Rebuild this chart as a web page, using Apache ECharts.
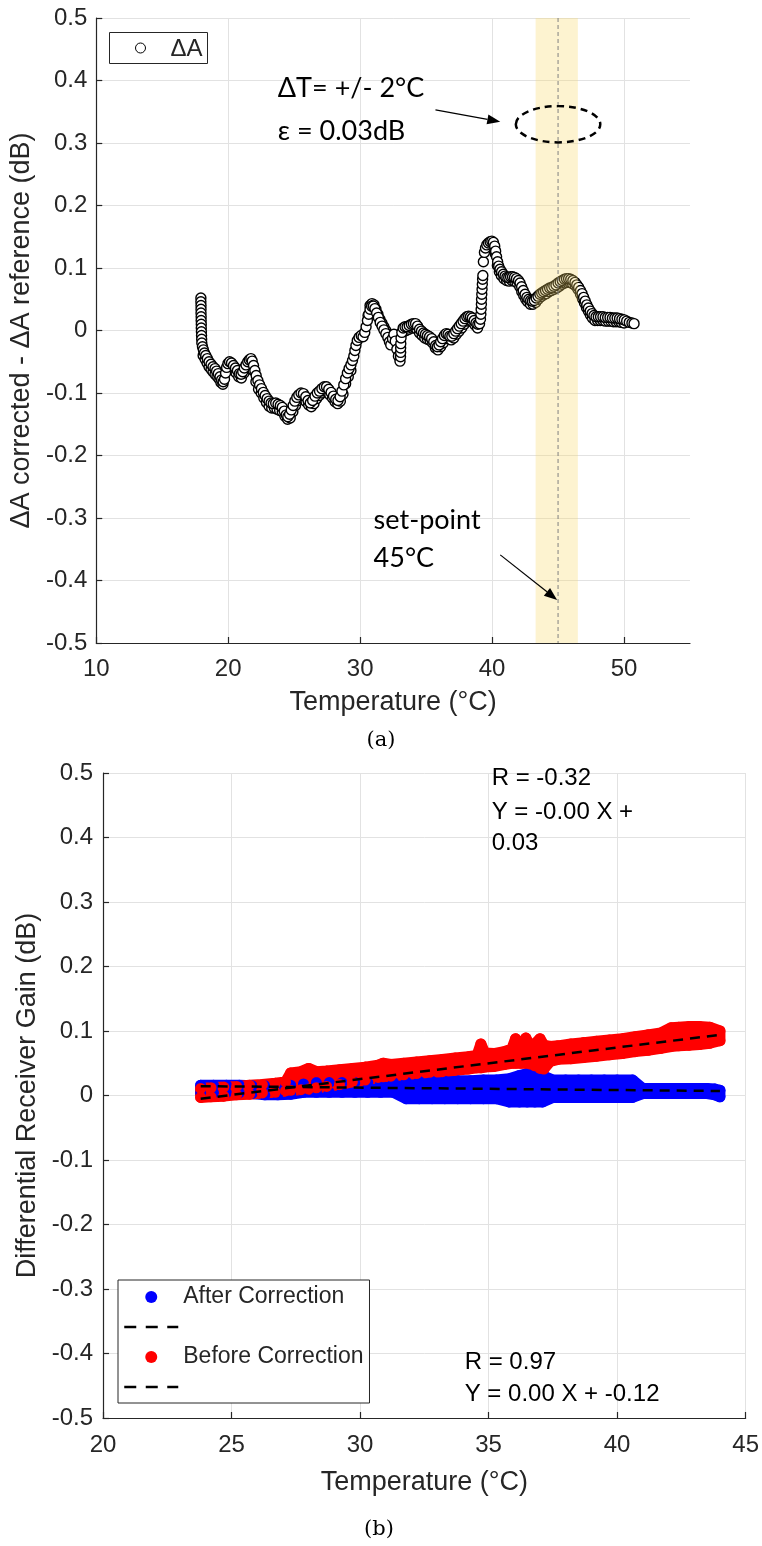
<!DOCTYPE html>
<html>
<head>
<meta charset="utf-8">
<script src="https://cdn.jsdelivr.net/npm/echarts@6/dist/echarts.min.js"></script>
<style>
  html, body { margin: 0; padding: 0; background: #ffffff; }
  #chart { width: 762px; height: 1546px; }
</style>
</head>
<body>
<div id="chart"></div>
<script>
// ---------- Panel (a): ΔA corrected − ΔA reference vs temperature ----------
const xTicksA = [10, 20, 30, 40, 50];
const xMaxA = 55;
const yTicks = [-0.5, -0.4, -0.3, -0.2, -0.1, 0, 0.1, 0.2, 0.3, 0.4, 0.5];

// [temperature °C, ΔA difference dB] — main sweep
const deltaAReadings = [
  [17.93,0.052],[17.93,0.046],[17.94,0.040],[17.94,0.034],[17.94,0.028],[17.95,0.022],[17.95,0.016],
  [17.96,0.010],[17.96,0.004],[17.97,-0.002],[17.98,-0.008],[17.99,-0.014],[18.0,-0.020],[18.05,-0.026],
  [18.12,-0.031],[18.2,-0.036],[18.3,-0.040],[18.42,-0.045],[18.55,-0.050],[18.7,-0.054],[18.85,-0.058],
  [19.0,-0.061],[19.12,-0.065],[19.25,-0.069],[19.38,-0.074],[19.5,-0.079],[19.62,-0.082],[19.72,-0.078],
  [19.8,-0.068],[19.88,-0.059],[19.98,-0.053],[20.1,-0.050],[20.25,-0.052],[20.4,-0.056],[20.55,-0.060],
  [20.7,-0.064],[20.85,-0.069],[20.98,-0.070],[21.1,-0.066],[21.22,-0.060],[21.35,-0.055],[21.48,-0.050],
  [21.6,-0.047],[21.72,-0.045],[21.82,-0.049],[21.92,-0.056],[22.02,-0.064],[22.12,-0.072],[22.25,-0.080],
  [22.38,-0.087],[22.52,-0.093],[22.66,-0.099],[22.8,-0.104],[22.95,-0.109],[23.1,-0.113],[23.25,-0.116],
  [23.42,-0.117],[23.6,-0.116],[23.78,-0.118],[23.95,-0.120],[24.1,-0.123],[24.25,-0.129],[24.4,-0.135],
  [24.52,-0.138],[24.65,-0.134],[24.78,-0.127],[24.92,-0.120],[25.05,-0.113],[25.2,-0.107],[25.35,-0.103],
  [25.52,-0.100],[25.7,-0.101],[25.88,-0.106],[26.05,-0.112],[26.22,-0.116],[26.4,-0.112],[26.58,-0.105],
  [26.75,-0.100],[26.92,-0.097],[27.1,-0.093],[27.28,-0.090],[27.45,-0.090],[27.62,-0.094],[27.8,-0.099],
  [27.98,-0.105],[28.15,-0.110],[28.32,-0.112],[28.48,-0.106],[28.62,-0.097],[28.76,-0.087],[28.9,-0.077],
  [29.03,-0.068],[29.16,-0.061],[29.3,-0.055],[29.42,-0.048],[29.52,-0.041],[29.6,-0.032],[29.68,-0.024],
  [29.78,-0.016],[29.92,-0.011],[30.08,-0.008],[30.22,-0.010],[30.35,-0.003],[30.45,0.006],[30.55,0.016],
  [30.65,0.026],[30.75,0.034],[30.87,0.039],[31.0,0.039],[31.12,0.035],[31.25,0.028],[31.38,0.021],
  [31.52,0.013],[31.66,0.007],[31.8,0.001],[31.95,-0.005],[32.1,-0.011],[32.22,-0.018],[32.32,-0.023],
  [32.45,-0.013],[32.56,-0.006],[32.66,-0.017],[32.78,-0.030],[32.9,-0.041],[33.02,-0.049],[33.06,-0.042],
  [33.07,-0.035],[33.07,-0.028],[33.08,-0.021],[33.1,-0.012],[33.16,-0.003],[33.26,0.004],[33.4,0.006],
  [33.56,0.006],[33.72,0.008],[33.88,0.010],[34.04,0.011],[34.2,0.011],[34.35,0.007],[34.5,0.002],
  [34.65,-0.001],[34.8,-0.004],[34.95,-0.006],[35.1,-0.008],[35.26,-0.010],[35.42,-0.013],[35.58,-0.018],
  [35.72,-0.024],[35.85,-0.026],[35.98,-0.023],[36.1,-0.018],[36.24,-0.013],[36.38,-0.008],[36.52,-0.005],
  [36.66,-0.006],[36.8,-0.009],[36.95,-0.009],[37.1,-0.005],[37.24,-0.001],[37.38,0.003],[37.52,0.007],
  [37.66,0.011],[37.8,0.015],[37.94,0.019],[38.08,0.022],[38.22,0.023],[38.36,0.022],[38.5,0.020],
  [38.64,0.016],[38.78,0.012],[38.92,0.010],[39.05,0.011],[39.12,0.018],[39.15,0.026],[39.17,0.034],
  [39.19,0.042],[39.2,0.050],[39.22,0.058],[39.24,0.066],[39.26,0.074],[39.28,0.082],[39.3,0.088],
  [39.34,0.110],[39.42,0.125],[39.5,0.132],[39.6,0.137],[39.72,0.140],[39.85,0.142],[39.98,0.143],
  [40.1,0.141],[40.2,0.135],[40.27,0.127],[40.34,0.118],[40.42,0.110],[40.5,0.103],[40.6,0.098],
  [40.72,0.094],[40.85,0.090],[40.98,0.087],[41.12,0.085],[41.26,0.085],[41.4,0.086],[41.55,0.086],
  [41.7,0.085],[41.85,0.083],[42.0,0.080],[42.12,0.076],[42.24,0.070],[42.36,0.064],[42.5,0.058],
  [42.64,0.053],[42.78,0.050],[42.92,0.048],[43.06,0.047],[43.2,0.048],[43.34,0.052],[43.48,0.055],
  [43.62,0.058],[43.76,0.060],[43.9,0.062],[44.05,0.064],[44.2,0.066],[44.36,0.068],[44.52,0.069],
  [44.68,0.071],[44.84,0.073],[45.0,0.076],[45.16,0.078],[45.32,0.080],[45.48,0.082],[45.64,0.083],
  [45.8,0.083],[45.96,0.082],[46.12,0.080],[46.28,0.077],[46.42,0.073],[46.56,0.069],[46.7,0.064],
  [46.82,0.059],[46.94,0.053],[47.06,0.047],[47.18,0.041],[47.3,0.036],[47.44,0.031],[47.58,0.027],
  [47.72,0.024],[47.88,0.022],[48.05,0.022],[48.22,0.022],[48.4,0.022],[48.58,0.021],[48.76,0.021],
  [48.94,0.021],[49.12,0.020],[49.3,0.020],[49.48,0.020],[49.66,0.019],[49.84,0.018],[50.02,0.017],
  [50.2,0.015],[50.4,0.013],[50.6,0.012],[50.76,0.011]
];

// [temperature °C, ΔA difference dB] — return sweep along the lower side of the trace
const deltaAReturn = [
  [18.1,-0.040],[18.25,-0.046],[18.4,-0.052],[18.55,-0.058],[18.7,-0.062],[18.85,-0.066],[19.0,-0.070],
  [19.15,-0.073],[19.3,-0.077],[19.45,-0.083],[19.6,-0.086],[20.0,-0.060],[20.2,-0.060],[20.4,-0.064],
  [20.6,-0.068],[20.8,-0.074],[21.0,-0.076],[21.2,-0.068],[21.4,-0.060],[21.6,-0.054],[21.75,-0.054],
  [21.9,-0.064],[22.1,-0.082],[22.3,-0.094],[22.5,-0.100],[22.7,-0.108],[22.9,-0.115],[23.1,-0.121],
  [23.3,-0.124],[23.5,-0.124],[23.7,-0.126],[23.9,-0.128],[24.1,-0.130],[24.3,-0.137],[24.5,-0.142],
  [24.7,-0.140],[24.9,-0.130],[25.1,-0.120],[25.3,-0.112],[25.5,-0.108],[25.7,-0.109],[25.9,-0.114],
  [26.1,-0.119],[26.3,-0.122],[26.5,-0.117],[26.7,-0.109],[26.9,-0.104],[27.1,-0.100],[27.3,-0.097],
  [27.5,-0.098],[27.7,-0.103],[27.9,-0.108],[28.1,-0.114],[28.3,-0.117],[28.5,-0.113],[28.7,-0.102],
  [28.9,-0.085],[29.1,-0.074],[29.3,-0.064],[30.6,0.024],[30.75,0.040],[30.9,0.043],[31.05,0.041],
  [31.2,0.034],[31.35,0.026],[31.5,0.018],[31.65,0.012],[31.8,0.006],[31.95,0.000],[32.1,-0.006],
  [32.9,-0.032],[33.0,-0.040],[33.3,-0.002],[33.5,0.000],[33.7,0.002],[33.9,0.004],[34.1,0.005],
  [34.3,0.002],[34.5,-0.004],[34.7,-0.008],[34.9,-0.012],[35.1,-0.014],[35.3,-0.016],[35.5,-0.020],
  [35.7,-0.028],[35.9,-0.031],[36.1,-0.026],[36.3,-0.020],[36.5,-0.013],[36.7,-0.013],[36.9,-0.015],
  [37.1,-0.012],[37.3,-0.006],[37.5,-0.001],[37.7,0.004],[37.9,0.010],[38.1,0.015],[38.3,0.016],
  [38.5,0.014],[38.7,0.009],[38.9,0.004],[39.7,0.134],[39.9,0.136],[40.1,0.135],[40.25,0.122],
  [40.4,0.104],[40.55,0.094],[40.7,0.088],[40.9,0.083],[41.1,0.080],[41.3,0.079],[41.5,0.080],
  [41.7,0.079],[41.9,0.076],[42.1,0.070],[42.25,0.062],[42.4,0.056],[42.55,0.050],[42.7,0.046],
  [42.9,0.042],[43.1,0.042],[43.3,0.045],[43.5,0.050],[43.7,0.054],[43.9,0.057],[44.1,0.059],
  [44.3,0.062],[44.5,0.064],[44.7,0.066],[44.9,0.068],[45.1,0.071],[45.3,0.074],[45.5,0.076],
  [45.7,0.077],[45.9,0.077],[46.1,0.075],[46.3,0.072],[46.5,0.066],[46.7,0.058],[46.85,0.051],
  [47.0,0.044],[47.15,0.037],[47.3,0.031],[47.45,0.025],[47.6,0.020],[47.8,0.016],[48.0,0.016],
  [48.2,0.016],[48.4,0.016],[48.6,0.015],[48.8,0.015],[49.0,0.015],[49.2,0.014],[49.4,0.014],
  [49.6,0.014],[49.8,0.013],[50.0,0.012]
];

// set-point band [low °C, high °C, set-point °C]
const setPointBand = [43.3, 46.5, 45];
// tolerance ellipse [centre °C, centre dB, half-width °C, half-height dB]
const toleranceEllipse = [45, 0.33, 3.2, 0.029];
// annotation arrows [from °C, from dB, to °C, to dB]
const arrowsA = [
  [35.71, 0.353, 40.62, 0.334],
  [40.62, -0.359, 44.93, -0.431]
];

// ---------- Panel (b): differential receiver gain vs temperature ----------
const xTicksB = [20, 25, 30, 35, 40, 45];

// After correction: temperature and lower / upper extent of the point cloud (dB)
const afterTemp = [23.8,24.3,24.8,25.3,25.8,26.3,26.8,27.3,27.8,28.3,28.8,29.3,29.8,30.3,30.8,31.3,31.8,32.3,32.8,
  33.3,33.8,34.3,34.8,35.3,35.8,36.2,36.5,36.8,37.1,37.5,38.0,38.5,39.0,39.5,40.0,40.6,41.0,41.5,42.0,42.5,
  43.0,43.5,43.8,44.0];
const afterLo = [0.004,0.004,0.004,0.004,0.003,0.001,0.001,0.002,0.005,0.005,0.005,0.005,0.005,0.005,0.005,0.005,
  -0.005,-0.005,-0.005,-0.005,-0.005,-0.005,-0.005,-0.005,-0.010,-0.010,-0.010,-0.010,-0.010,-0.003,-0.003,-0.003,
  -0.003,-0.003,-0.003,-0.003,0.003,0.003,0.003,0.003,0.003,0.003,0.001,-0.002];
const afterHi = [0.016,0.016,0.016,0.016,0.015,0.015,0.015,0.016,0.018,0.020,0.020,0.020,0.020,0.020,0.020,0.020,
  0.021,0.022,0.022,0.022,0.023,0.023,0.024,0.024,0.026,0.031,0.034,0.032,0.031,0.024,0.024,0.024,0.024,0.024,
  0.024,0.024,0.011,0.011,0.011,0.011,0.011,0.011,0.010,0.008];

// Before correction: temperature and lower / upper extent of the point cloud (dB)
const beforeTemp = [23.8,24.2,24.7,25.2,25.7,26.2,26.7,27.1,27.3,27.7,28.0,28.3,28.7,29.2,29.7,30.2,30.7,30.9,31.2,
  31.7,32.2,32.7,33.2,33.7,34.2,34.55,34.7,34.85,35.2,35.6,35.9,36.05,36.25,36.45,36.6,36.8,37.0,37.15,37.4,
  37.7,38.2,38.7,39.2,39.7,40.2,40.7,41.2,41.7,42.1,42.4,42.8,43.2,43.6,44.0];
const beforeLo = [-0.003,-0.002,-0.001,0.001,0.002,0.004,0.005,0.007,0.008,0.009,0.010,0.012,0.014,0.017,0.021,
  0.024,0.028,0.029,0.030,0.032,0.034,0.036,0.037,0.039,0.041,0.043,0.043,0.044,0.045,0.048,0.050,0.050,0.050,
  0.050,0.049,0.046,0.042,0.041,0.053,0.056,0.057,0.059,0.061,0.063,0.065,0.068,0.070,0.073,0.076,0.077,0.078,
  0.079,0.081,0.085];
const beforeHi = [0.011,0.012,0.013,0.014,0.016,0.017,0.019,0.021,0.035,0.037,0.042,0.037,0.038,0.040,0.042,0.044,
  0.047,0.050,0.048,0.050,0.052,0.054,0.056,0.058,0.060,0.062,0.080,0.066,0.065,0.068,0.072,0.088,0.075,0.089,
  0.078,0.080,0.088,0.078,0.076,0.077,0.080,0.082,0.084,0.086,0.088,0.091,0.094,0.097,0.105,0.106,0.107,0.107,
  0.106,0.100];

// fitted trend lines (end points)
const afterFitLine = [[23.8, 0.0145], [44.0, 0.0070]];
const beforeFitLine = [[23.8, -0.005], [44.0, 0.094]];

// text blocks
const fitAfterText = ['R = -0.32', 'Y = -0.00 X +', '0.03'];
const fitBeforeText = ['R = 0.97', 'Y = 0.00 X + -0.12'];

// ---------- styling ----------
const AXIS_COLOR = '#262626';
const GRID_COLOR = '#e2e2e2';
const SANS = "'Liberation Sans', Arial, Helvetica, sans-serif";
const NOTE_FONT = "Lato, 'Open Sans', sans-serif";
const SERIF = "'DejaVu Serif', 'Liberation Serif', serif";
const BAND_FILL = 'rgba(247, 214, 100, 0.30)';
const CLOUD_MARKER = 11;

function valueAxis(gridIndex, ticks, max, name, nameGap, labelMargin) {
  return {
    type: 'value',
    gridIndex: gridIndex,
    min: ticks[0],
    max: max,
    interval: ticks[1] - ticks[0],
    name: name,
    nameLocation: 'middle',
    nameGap: nameGap,
    nameTextStyle: { fontFamily: SANS, fontSize: 27, color: AXIS_COLOR },
    axisLine: { show: true, onZero: false, lineStyle: { color: AXIS_COLOR, width: 1.2 } },
    axisTick: { show: true, inside: true, length: 6, customValues: ticks, lineStyle: { color: AXIS_COLOR, width: 1.2 } },
    axisLabel: {
      fontFamily: SANS, fontSize: 24, color: AXIS_COLOR, margin: labelMargin, customValues: ticks,
      formatter: v => String(Math.round(v * 10) / 10)
    },
    splitLine: { show: true, lineStyle: { color: GRID_COLOR, width: 1 } }
  };
}

const pairs = (xs, ys) => xs.map((x, i) => [x, ys[i]]);
const edgePoints = (xs, lo, hi) => pairs(xs, lo).concat(pairs(xs, hi));
const hiddenDot = { color: 'rgba(0,0,0,0)', borderColor: 'rgba(0,0,0,0)', borderWidth: 0 };

// filled envelope of a point cloud between its lower and upper extents,
// widened by the marker radius so it reads like a dense run of dots
function envelopeSeries(name, temps, lo, hi, color) {
  return {
    name: name, type: 'custom', xAxisIndex: 1, yAxisIndex: 1, z: 2, silent: true,
    data: [[temps[0], lo[0]]],
    renderItem: function (params, api) {
      const upper = temps.map((t, j) => api.coord([t, hi[j]]));
      const lower = temps.map((t, j) => api.coord([t, lo[j]])).reverse();
      return {
        type: 'polygon', shape: { points: upper.concat(lower) },
        style: { fill: color, stroke: color, lineWidth: CLOUD_MARKER, lineJoin: 'round' }
      };
    }
  };
}

const chart = echarts.init(document.getElementById('chart'), null, { renderer: 'canvas', width: 762, height: 1546 });

const option = {
  animation: false,
  backgroundColor: '#ffffff',
  grid: [
    { left: 95, top: 18, width: 595, height: 625, containLabel: false },
    { left: 103, top: 773, width: 643, height: 645, containLabel: false }
  ],
  xAxis: [
    valueAxis(0, xTicksA, xMaxA, 'Temperature (°C)', 46, 14),
    valueAxis(1, xTicksB, xTicksB[xTicksB.length - 1], 'Temperature (°C)', 51, 15)
  ],
  yAxis: [
    valueAxis(0, yTicks, yTicks[yTicks.length - 1], 'ΔA corrected - ΔA reference (dB)', 43, 9),
    valueAxis(1, yTicks, yTicks[yTicks.length - 1], 'Differential Receiver Gain (dB)', 57, 10)
  ],
  legend: [
    {
      left: 118, top: 1280, orient: 'vertical',
      padding: [5, 6, 4, 5],
      itemWidth: 54, itemHeight: 12, itemGap: 6,
      backgroundColor: '#ffffff', borderColor: AXIS_COLOR, borderWidth: 1, borderRadius: 0,
      textStyle: { fontFamily: SANS, fontSize: 23, color: AXIS_COLOR, lineHeight: 24 },
      selectedMode: false,
      data: [
        { name: 'After Correction', icon: 'circle', itemStyle: { color: '#0000ff', opacity: 1 } },
        { name: ' ', itemStyle: hiddenDot, lineStyle: { color: '#000000', width: 2.5, type: [12, 9.5] } },
        { name: 'Before Correction', icon: 'circle', itemStyle: { color: '#ff0000', opacity: 1 } },
        { name: '  ', itemStyle: hiddenDot, lineStyle: { color: '#000000', width: 2.5, type: [12, 9.5] } }
      ]
    }
  ],
  series: [
    // panel (a) measurements
    {
      name: 'ΔA', type: 'scatter', xAxisIndex: 0, yAxisIndex: 0, z: 2,
      symbol: 'circle', symbolSize: 10,
      itemStyle: { color: '#ffffff', borderColor: '#000000', borderWidth: 1.4, opacity: 1 },
      data: deltaAReturn.concat(deltaAReadings), silent: true
    },
    // set-point band and set-point line
    {
      name: 'set-point band', type: 'custom', xAxisIndex: 0, yAxisIndex: 0, z: 3, silent: true,
      data: [setPointBand],
      renderItem: function (params, api) {
        const top = yTicks[yTicks.length - 1], bottom = yTicks[0];
        const p1 = api.coord([api.value(0), top]);
        const p2 = api.coord([api.value(1), bottom]);
        const q1 = api.coord([api.value(2), top]);
        const q2 = api.coord([api.value(2), bottom]);
        return {
          type: 'group',
          children: [
            { type: 'rect', shape: { x: p1[0], y: p1[1], width: p2[0] - p1[0], height: p2[1] - p1[1] },
              style: { fill: BAND_FILL } },
            { type: 'line', shape: { x1: q1[0], y1: q1[1], x2: q2[0], y2: q2[1] },
              style: { stroke: '#808080', lineWidth: 1, lineDash: [4, 3] } }
          ]
        };
      }
    },
    // tolerance ellipse
    {
      name: 'tolerance', type: 'custom', xAxisIndex: 0, yAxisIndex: 0, z: 4, silent: true,
      data: [toleranceEllipse],
      renderItem: function (params, api) {
        const c = api.coord([api.value(0), api.value(1)]);
        const rx = api.size([api.value(2), 0])[0];
        const ry = api.size([0, api.value(3)])[1];
        return {
          type: 'ellipse',
          shape: { cx: c[0], cy: c[1], rx: rx, ry: ry },
          style: { fill: 'none', stroke: '#000000', lineWidth: 2.5, lineDash: [7, 5] }
        };
      }
    },
    // annotation arrows
    {
      name: 'arrows', type: 'custom', xAxisIndex: 0, yAxisIndex: 0, z: 5, silent: true,
      data: arrowsA,
      renderItem: function (params, api) {
        const p = api.coord([api.value(0), api.value(1)]);
        const q = api.coord([api.value(2), api.value(3)]);
        const dx = q[0] - p[0], dy = q[1] - p[1];
        const len = Math.sqrt(dx * dx + dy * dy);
        const ux = dx / len, uy = dy / len;
        const head = 13, half = 5;
        const bx = q[0] - ux * head, by = q[1] - uy * head;
        return {
          type: 'group',
          children: [
            { type: 'line', shape: { x1: p[0], y1: p[1], x2: bx, y2: by },
              style: { stroke: '#000000', lineWidth: 1.2 } },
            { type: 'polygon', shape: { points: [[q[0], q[1]], [bx - uy * half, by + ux * half], [bx + uy * half, by - ux * half]] },
              style: { fill: '#000000' } }
          ]
        };
      }
    },

    // panel (b): after correction cloud
    envelopeSeries('after envelope', afterTemp, afterLo, afterHi, '#0000ff'),
    {
      name: 'After Correction', type: 'scatter', xAxisIndex: 1, yAxisIndex: 1, z: 2, silent: true,
      symbol: 'circle', symbolSize: CLOUD_MARKER, itemStyle: { color: '#0000ff', opacity: 1 },
      data: edgePoints(afterTemp, afterLo, afterHi)
    },
    // panel (b): before correction cloud
    envelopeSeries('before envelope', beforeTemp, beforeLo, beforeHi, '#ff0000'),
    {
      name: 'Before Correction', type: 'scatter', xAxisIndex: 1, yAxisIndex: 1, z: 2, silent: true,
      symbol: 'circle', symbolSize: CLOUD_MARKER, itemStyle: { color: '#ff0000', opacity: 1 },
      data: edgePoints(beforeTemp, beforeLo, beforeHi)
    },
    // fitted lines
    {
      name: ' ', type: 'line', xAxisIndex: 1, yAxisIndex: 1, z: 4, silent: true,
      symbol: 'none', showSymbol: false,
      lineStyle: { color: '#000000', width: 2.5, type: [10, 7] },
      data: afterFitLine
    },
    {
      name: '  ', type: 'line', xAxisIndex: 1, yAxisIndex: 1, z: 4, silent: true,
      symbol: 'none', showSymbol: false,
      lineStyle: { color: '#000000', width: 2.5, type: [10, 7] },
      data: beforeFitLine
    }
  ]
};

chart.setOption(option);

// text annotations anchored in data coordinates
function noteAt(gridIndex, coord, text, font, size) {
  const p = chart.convertToPixel({ gridIndex: gridIndex }, coord);
  return {
    type: 'text', x: p[0], y: p[1], silent: true, z: 10,
    style: { text: text, fontFamily: font, fontSize: size, fill: '#000000', align: 'left', verticalAlign: 'middle' }
  };
}

// key box for panel (a)
const keyA = {
  type: 'group', left: 109, top: 32, silent: true, z: 10,
  children: [
    { type: 'rect', shape: { x: 0, y: 0, width: 98, height: 31 },
      style: { fill: '#ffffff', stroke: AXIS_COLOR, lineWidth: 1 } },
    { type: 'circle', shape: { cx: 31, cy: 15.5, r: 5 },
      style: { fill: '#ffffff', stroke: '#000000', lineWidth: 1 } },
    { type: 'text', x: 61, y: 16.5,
      style: { text: 'ΔA', fontFamily: SANS, fontSize: 24, fill: AXIS_COLOR, align: 'left', verticalAlign: 'middle' } }
  ]
};

const graphics = [
  keyA,
  noteAt(0, [23.76, 0.388], 'ΔT= +/- 2°C', NOTE_FONT, 27),
  noteAt(0, [23.76, 0.318], 'ε = 0.03dB', NOTE_FONT, 27),
  noteAt(0, [31.02, -0.303], 'set-point', NOTE_FONT, 27),
  noteAt(0, [31.02, -0.364], '45°C', NOTE_FONT, 27),
  noteAt(1, [35.12, 0.492], fitAfterText[0], SANS, 24),
  noteAt(1, [35.12, 0.4395], fitAfterText[1], SANS, 24),
  noteAt(1, [35.12, 0.3915], fitAfterText[2], SANS, 24),
  noteAt(1, [34.07, -0.413], fitBeforeText[0], SANS, 24),
  noteAt(1, [34.07, -0.463], fitBeforeText[1], SANS, 24),
  {
    type: 'text', x: 381, y: 741, silent: true,
    style: { text: '(a)', fontFamily: SERIF, fontSize: 21, fill: '#000000', align: 'center', verticalAlign: 'middle' }
  },
  {
    type: 'text', x: 379, y: 1530, silent: true,
    style: { text: '(b)', fontFamily: SERIF, fontSize: 21, fill: '#000000', align: 'center', verticalAlign: 'middle' }
  }
];
chart.setOption({ graphic: graphics });
</script>
</body>
</html>
